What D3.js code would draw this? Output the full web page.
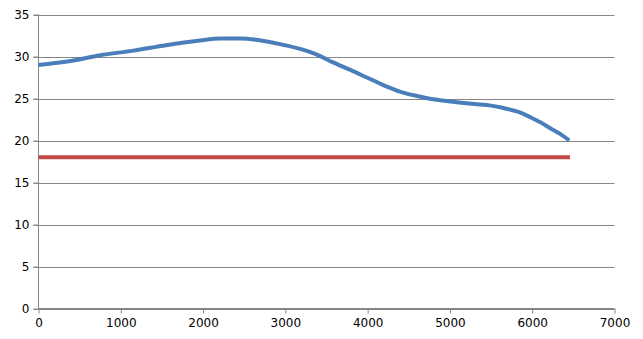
<!DOCTYPE html>
<html>
<head>
<meta charset="utf-8">
<script src="https://cdn.jsdelivr.net/npm/d3@7"></script>
<style>
  body { margin: 0; background: #fff; }
</style>
</head>
<body>
<div id="chart"></div>
<script>
// series
var distance = [0, 350, 750, 1150, 1550, 1960, 2200, 2450, 2650, 2970, 3180, 3390, 3580, 3790,
    3990, 4190, 4400, 4600, 4800, 5000, 5300, 5500, 5610, 5730, 5850, 5980, 6100, 6220, 6340, 6450];
var measured = [29.0, 29.4, 30.15, 30.7, 31.35, 31.9, 32.15, 32.15, 32.0, 31.4, 30.9, 30.2, 29.3, 28.4,
    27.5, 26.6, 25.8, 25.3, 24.9, 24.65, 24.35, 24.15, 23.95, 23.67, 23.35, 22.76, 22.16, 21.45, 20.78, 20.0];
var limitX = [0, 6460];
var limitY = [18, 18];
var xTicks = [0, 1000, 2000, 3000, 4000, 5000, 6000, 7000];
var yTicks = [0, 5, 10, 15, 20, 25, 30, 35];

var width = 643, height = 339;
var margin = {left: 38.5, right: 28.5, top: 14.5, bottom: 30.5};

var svg = d3.select("#chart").append("svg")
    .attr("width", width)
    .attr("height", height);

var x = d3.scaleLinear().domain([0, 7000]).range([margin.left, width - margin.right]);
var y = d3.scaleLinear().domain([0, 35]).range([height - margin.bottom, margin.top]);

// horizontal gridlines
svg.append("g")
    .selectAll("line")
    .data(yTicks)
    .enter().append("line")
    .attr("x1", x(0) - 5)
    .attr("x2", x(7000))
    .attr("y1", function(d) { return Math.round(y(d)) + 0.5; })
    .attr("y2", function(d) { return Math.round(y(d)) + 0.5; })
    .attr("stroke", "#868686");

// y axis
var yAxis = svg.append("g")
    .attr("transform", "translate(" + x(0) + ",0)")
    .call(d3.axisLeft(y).tickValues(yTicks).tickSize(5).tickPadding(4))
    .attr("font-family", "DejaVu Sans")
    .attr("font-size", 12);
yAxis.selectAll("line, path").attr("stroke", "#868686");
yAxis.select(".domain").attr("d", "M0," + y(35) + "V" + y(0));

// x axis
var xAxis = svg.append("g")
    .attr("transform", "translate(0," + y(0) + ")")
    .call(d3.axisBottom(x).tickValues(xTicks).tickSize(5).tickPadding(5).tickFormat(d3.format("d")))
    .attr("font-family", "DejaVu Sans")
    .attr("font-size", 12);
xAxis.selectAll("line, path").attr("stroke", "#868686");
xAxis.select(".domain").attr("d", "M" + x(0) + ",0H" + x(7000));

var line = d3.line()
    .x(function(d) { return x(d[0]); })
    .y(function(d) { return y(d[1]); });

svg.append("path")
    .datum(d3.zip(limitX, limitY))
    .attr("fill", "none")
    .attr("stroke", "#be4b48")
    .attr("stroke-width", 4)
    .attr("d", line);

svg.append("path")
    .datum(d3.zip(distance, measured))
    .attr("fill", "none")
    .attr("stroke", "#4a7ebb")
    .attr("stroke-width", 4)
    .attr("d", line.curve(d3.curveMonotoneX));
</script>
</body>
</html>
